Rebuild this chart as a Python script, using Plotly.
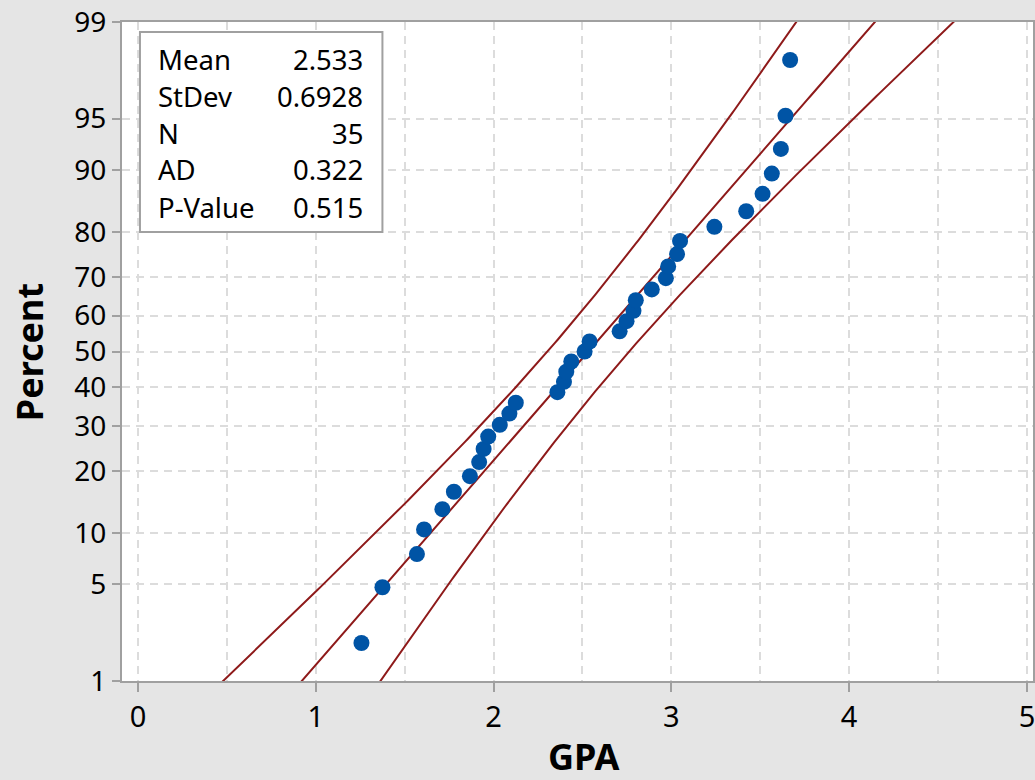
import numpy as np
import plotly.graph_objects as go
from statistics import NormalDist

# ---- data ----
gpa = [1.257, 1.375, 1.569, 1.609, 1.712, 1.777, 1.867, 1.919, 1.944, 1.970,
       2.035, 2.089, 2.125, 2.359, 2.396, 2.409, 2.437, 2.512, 2.540, 2.709,
       2.748, 2.787, 2.800, 2.890, 2.969, 2.982, 3.032, 3.049, 3.242, 3.421,
       3.513, 3.565, 3.616, 3.642, 3.668]
percent = [1.98, 4.80, 7.63, 10.45, 13.28, 16.10, 18.93, 21.75, 24.58, 27.40,
           30.23, 33.05, 35.88, 38.70, 41.53, 44.35, 47.18, 50.00, 52.82, 55.65,
           58.47, 61.30, 64.12, 66.95, 69.77, 72.60, 75.42, 78.25, 81.07, 83.90,
           86.72, 89.55, 92.37, 95.20, 98.02]
y_ticks = [1, 5, 10, 20, 30, 40, 50, 60, 70, 80, 90, 95, 99]
x_ticks = [0, 1, 2, 3, 4, 5]
stat_labels = ["Mean", "StDev", "N", "AD", "P-Value"]
stat_values = ["2.533", "0.6928", "35", "0.322", "0.515"]
mean, stdev, n = 2.533, 0.6928, 35

nd = NormalDist()
def zq(p):
    return nd.inv_cdf(p / 100.0)

y_pts = [zq(p) for p in percent]

# fitted line and 95% confidence band from the summary statistics
zz = np.linspace(zq(0.8), zq(99.2), 200)
fit = mean + stdev * zz
half = 1.96 * stdev * np.sqrt(1.0 / n + zz ** 2 / (2.0 * n))

W, H = 1035, 780
L, R, T, B = 122, 0, 22, 99
pw, ph = W - L - R, H - T - B
def px(x):
    return (x - L) / pw
def py(y):
    return (H - B - y) / ph

line_col = "#8E1A1A"
FONT = "Noto Sans"

fig = go.Figure()
for xs in (fit - half, fit, fit + half):
    fig.add_trace(go.Scatter(x=xs, y=zz, mode="lines",
                             line=dict(color=line_col, width=2),
                             hoverinfo="skip", showlegend=False))
fig.add_trace(go.Scatter(x=gpa, y=y_pts, mode="markers",
                         marker=dict(color="#0054A5", size=16, line=dict(width=0)),
                         showlegend=False))

grid = dict(showgrid=True, gridcolor="#dcdcdc", gridwidth=2, griddash="8px,6px")
fig.update_xaxes(range=[-0.0898, 5.034], tickvals=x_ticks, ticks="outside",
                 ticklen=9, tickwidth=2, tickcolor="#a0a0a0",
                 showline=True, linecolor="#a0a0a0", linewidth=2, mirror=True,
                 zeroline=False, ticklabeloverflow="allow",
                 tickfont=dict(size=29, color="black", family=FONT),
                 minor=dict(dtick=0.5, tick0=0, showgrid=True, gridcolor="#dcdcdc",
                            gridwidth=2, griddash="8px,6px", ticks=""),
                 **grid)
fig.update_yaxes(range=[zq(1), zq(99)], tickvals=[zq(t) for t in y_ticks],
                 ticktext=[str(t) for t in y_ticks], ticks="outside",
                 ticklen=8, tickwidth=2, tickcolor="#a0a0a0",
                 showline=True, linecolor="#a0a0a0", linewidth=2, mirror=True,
                 zeroline=False, tickfont=dict(size=28, color="black", family=FONT),
                 **grid)

# statistics box
fig.add_shape(type="rect", xref="paper", yref="paper",
              x0=px(140), x1=px(383), y0=py(232), y1=py(32),
              line=dict(color="#a0a0a0", width=2), fillcolor="white", layer="above")
row_y = [59, 97, 133.5, 169.5, 207]
for lab, val, ry in zip(stat_labels, stat_values, row_y):
    fig.add_annotation(x=px(156), y=py(ry), xref="paper", yref="paper", text=lab,
                       showarrow=False, xanchor="left", yanchor="middle",
                       font=dict(size=27.5, color="black", family=FONT))
    fig.add_annotation(x=px(366), y=py(ry), xref="paper", yref="paper", text=val,
                       showarrow=False, xanchor="right", yanchor="middle",
                       font=dict(size=27.5, color="black", family=FONT))

# axis titles
fig.add_annotation(x=px(585), y=py(756), xref="paper", yref="paper", text="<b>GPA</b>",
                   showarrow=False, xanchor="center", yanchor="middle",
                   font=dict(size=36, color="black", family=FONT))
fig.add_annotation(x=px(29), y=py(352), xref="paper", yref="paper", text="<b>Percent</b>",
                   showarrow=False, xanchor="center", yanchor="middle", textangle=-90,
                   font=dict(size=36, color="black", family=FONT))

fig.update_layout(width=W, height=H, margin=dict(l=L, r=R, t=T, b=B),
                  paper_bgcolor="#e5e5e5", plot_bgcolor="white",
                  font=dict(family=FONT), showlegend=False)

fig.write_html("out.html", config={"displayModeBar": False},
               post_script="document.body.style.margin='0px';"
                           "document.body.style.background='#e5e5e5';")
